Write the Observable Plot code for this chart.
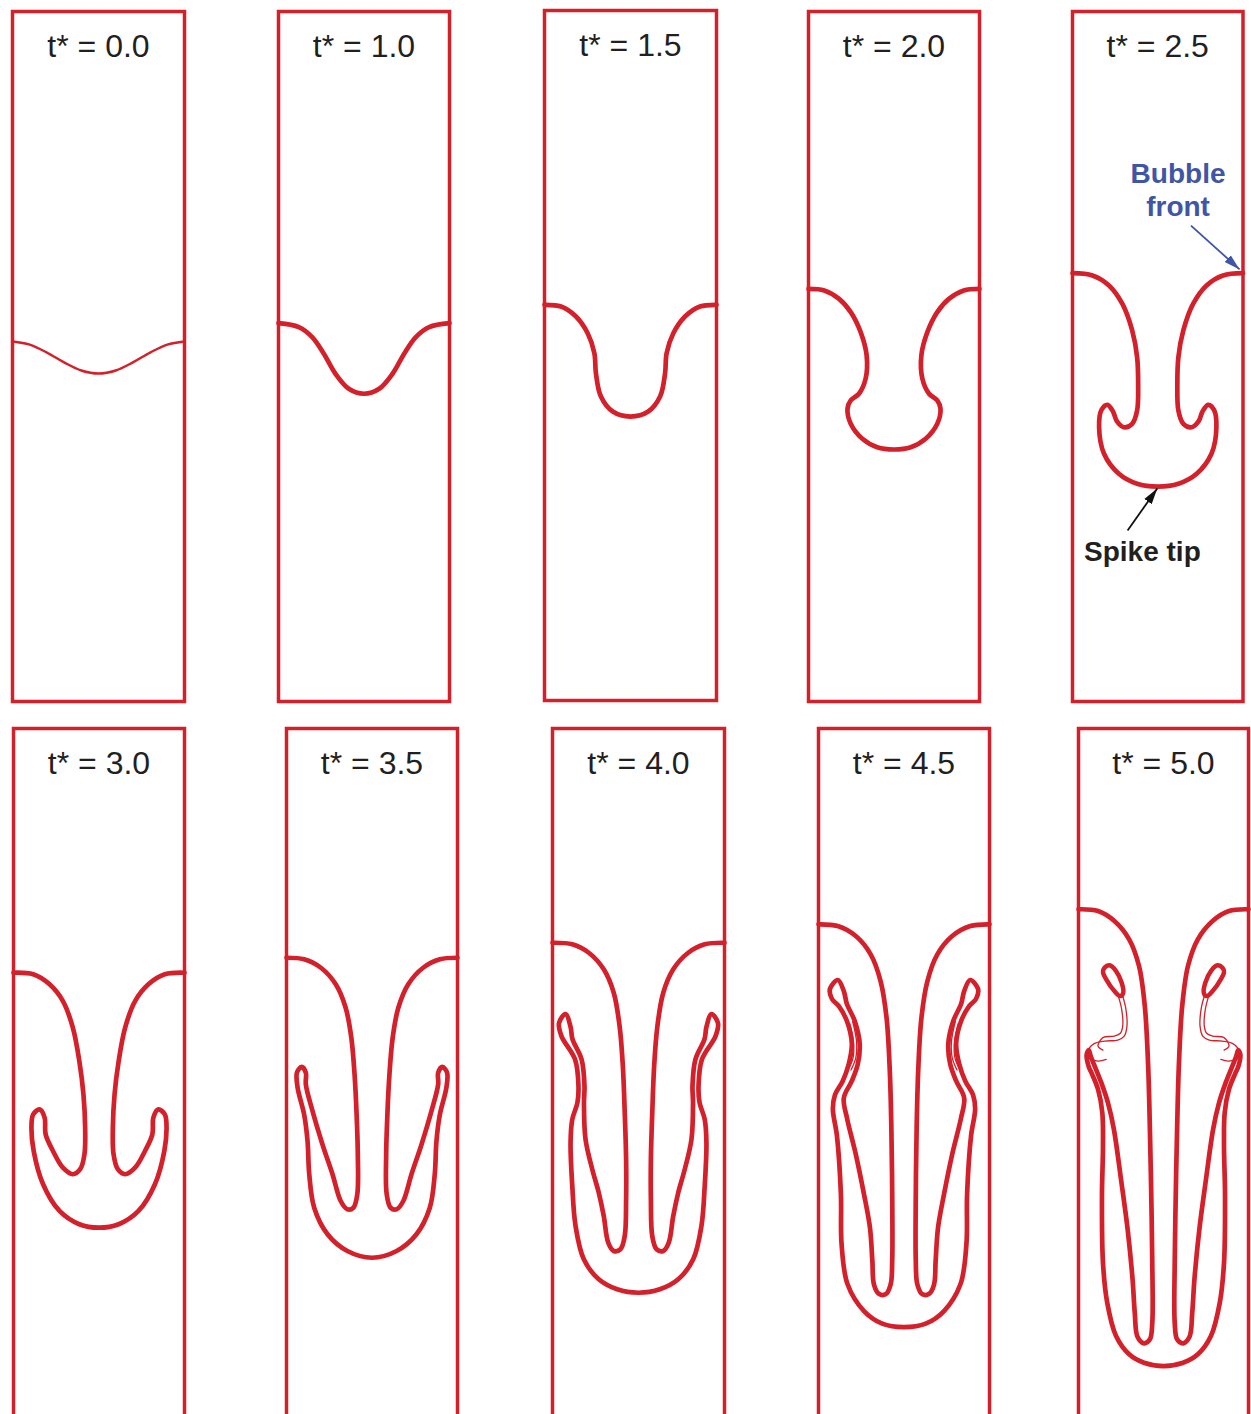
<!DOCTYPE html>
<html>
<head>
<meta charset="utf-8">
<script src="https://cdn.jsdelivr.net/npm/d3@7"></script>
<script src="https://cdn.jsdelivr.net/npm/@observablehq/plot@0.6"></script>
<style>
  html, body { margin: 0; padding: 0; background: #fff; overflow: hidden; }
  #page { position: relative; width: 1251px; height: 1414px; overflow: hidden; background: #fff; }
</style>
</head>
<body>
<div id="page"></div>
<script>
// ---------------- DATA ----------------
// Interface position in each tank: x = horizontal position in tank widths (-0.5 = left wall, 0 = centreline),
// h = height above the tank bottom in tank widths (tank is 4 widths tall).
// Only the left half is listed; the interface is symmetric about the centreline.
const timeLabels = ["0.0", "1.0", "1.5", "2.0", "2.5", "3.0", "3.5", "4.0", "4.5", "5.0"];

const t00 = [[-0.5,2.087],[-0.4,2.069],[-0.3,2.023],[-0.2,1.966],[-0.1,1.919],[0,1.901]];
const t10 = [[-0.5,2.193],[-0.381,2.170],[-0.303,2.112],[-0.235,2.016],[-0.167,1.900],[-0.089,1.813],[0,1.784]];
const t15 = [[-0.5,2.294],[-0.404,2.284],[-0.317,2.226],[-0.249,2.129],[-0.210,2.013],[-0.201,1.897],[-0.172,1.762],[-0.103,1.675],[0,1.646]];
const t20 = [[-0.5,2.392],[-0.408,2.383],[-0.321,2.334],[-0.253,2.257],[-0.195,2.141],[-0.160,2.006],[-0.166,1.871],[-0.205,1.784],[-0.253,1.745],[-0.272,1.697],[-0.253,1.610],[-0.185,1.523],[-0.098,1.474],[0,1.461]];
const t25 = [[-0.5,2.483],[-0.383,2.470],[-0.286,2.412],[-0.208,2.306],[-0.150,2.151],[-0.121,1.996],[-0.115,1.842],[-0.121,1.687],[-0.150,1.610],[-0.199,1.590],[-0.240,1.625],[-0.262,1.680],[-0.295,1.720],[-0.330,1.690],[-0.344,1.590],[-0.315,1.436],[-0.228,1.320],[-0.121,1.262],[0,1.246]];
const t30 = [[-0.5,2.584],[-0.385,2.575],[-0.289,2.517],[-0.211,2.420],[-0.153,2.266],[-0.115,2.072],[-0.091,1.879],[-0.081,1.686],[-0.085,1.532],[-0.110,1.445],[-0.153,1.416],[-0.211,1.454],[-0.269,1.551],[-0.312,1.647],[-0.318,1.744],[-0.347,1.792],[-0.385,1.763],[-0.395,1.686],[-0.382,1.551],[-0.327,1.358],[-0.231,1.203],[-0.115,1.126],[0,1.106]];
const t35 = [[-0.5,2.671],[-0.397,2.662],[-0.299,2.613],[-0.212,2.517],[-0.154,2.381],[-0.121,2.208],[-0.102,1.995],[-0.090,1.763],[-0.083,1.532],[-0.086,1.300],[-0.109,1.222],[-0.144,1.213],[-0.183,1.261],[-0.231,1.416],[-0.290,1.590],[-0.348,1.783],[-0.387,1.937],[-0.387,2.005],[-0.412,2.038],[-0.439,2.005],[-0.435,1.918],[-0.397,1.763],[-0.377,1.609],[-0.367,1.416],[-0.338,1.222],[-0.260,1.068],[-0.144,0.971],[0,0.932]];
const t40 = [[-0.5,2.758],[-0.385,2.749],[-0.289,2.700],[-0.202,2.604],[-0.144,2.468],[-0.110,2.275],[-0.091,2.043],[-0.080,1.773],[-0.072,1.503],[-0.072,1.271],[-0.080,1.058],[-0.105,0.981],[-0.144,0.971],[-0.176,1.019],[-0.202,1.174],[-0.231,1.309],[-0.269,1.445],[-0.308,1.619],[-0.317,1.831],[-0.314,1.928],[-0.331,2.082],[-0.384,2.200],[-0.395,2.270],[-0.424,2.345],[-0.462,2.293],[-0.448,2.217],[-0.369,2.082],[-0.349,1.928],[-0.355,1.831],[-0.385,1.734],[-0.395,1.599],[-0.385,1.348],[-0.366,1.116],[-0.318,0.923],[-0.231,0.807],[-0.124,0.749],[0,0.729]];
const t45 = [[-0.5,2.865],[-0.388,2.855],[-0.282,2.797],[-0.195,2.691],[-0.137,2.536],[-0.102,2.323],[-0.083,2.014],[-0.074,1.686],[-0.069,1.300],[-0.069,0.913],[-0.078,0.778],[-0.108,0.720],[-0.147,0.723],[-0.176,0.778],[-0.185,0.913],[-0.199,1.106],[-0.234,1.300],[-0.282,1.532],[-0.334,1.744],[-0.352,1.858],[-0.305,1.957],[-0.270,2.055],[-0.259,2.171],[-0.288,2.304],[-0.334,2.403],[-0.352,2.478],[-0.387,2.542],[-0.433,2.490],[-0.421,2.432],[-0.381,2.391],[-0.334,2.304],[-0.305,2.171],[-0.323,2.055],[-0.358,1.957],[-0.404,1.875],[-0.416,1.794],[-0.392,1.638],[-0.369,1.300],[-0.365,1.010],[-0.330,0.778],[-0.234,0.623],[-0.127,0.550],[0,0.530]];
const t50 = [[-0.5,2.952],[-0.385,2.942],[-0.289,2.884],[-0.202,2.778],[-0.144,2.623],[-0.110,2.391],[-0.091,2.063],[-0.080,1.677],[-0.072,1.290],[-0.066,0.903],[-0.066,0.555],[-0.080,0.459],[-0.115,0.436],[-0.153,0.474],[-0.169,0.613],[-0.182,0.807],[-0.211,1.097],[-0.250,1.387],[-0.292,1.677],[-0.327,1.831],[-0.366,1.947],[-0.409,2.053],[-0.428,2.100],[-0.440,2.135],[-0.452,2.110],[-0.440,2.040],[-0.424,2.005],[-0.385,1.908],[-0.360,1.773],[-0.356,1.580],[-0.362,1.290],[-0.356,0.903],[-0.331,0.671],[-0.279,0.478],[-0.202,0.372],[-0.115,0.323],[0,0.304]];

// thin filaments (left side) at t* = 4.5 and 5.0
const t45Threads = [
  [[-0.300,2.300],[-0.278,2.190],[-0.282,2.090],[-0.310,2.020]],
  [[-0.318,2.290],[-0.295,2.180],[-0.298,2.090],[-0.322,2.030]]
];
const t50Threads = [
  [[-0.240,2.449],[-0.221,2.372],[-0.215,2.275],[-0.231,2.217],[-0.269,2.194],[-0.347,2.188],[-0.405,2.175],[-0.440,2.140],[-0.434,2.092],[-0.385,2.072],[-0.337,2.082]],
  [[-0.269,2.459],[-0.246,2.372],[-0.240,2.275],[-0.254,2.233],[-0.289,2.217],[-0.356,2.208],[-0.385,2.159],[-0.356,2.136]]
];
// rolled-up blob at the tip of the filament, t* = 5.0 (closed loop, left side)
const t50Blob = [[-0.347,2.613],[-0.318,2.627],[-0.279,2.594],[-0.246,2.526],[-0.237,2.468],[-0.254,2.449],[-0.289,2.478],[-0.337,2.546],[-0.356,2.588]];

const mainHalves = [t00, t10, t15, t20, t25, t30, t35, t40, t45, t50];

// annotations in the t* = 2.5 tank
const noteLabels = ["Bubble", "front", "Spike tip"];
const noteX = [0.119, 0.119, -0.090];
const noteH = [3.058, 2.867, 0.864];
const arrowFrom = [[0.195, 2.759], [-0.177, 0.991]];
const arrowTo   = [[0.480, 2.505], [-0.003, 1.235]];

// ---------------- LAYOUT / STYLE ----------------
const RED = "#d3202a", INK = "#231f20", BLUE = "#3f55a5";
const FONT = "'Liberation Sans', Arial, Helvetica, sans-serif";
const frameLeft  = [11.5, 278, 543.5, 808, 1072, 12.5, 286, 552, 818, 1078];
const frameRight = [183.5, 449, 715.5, 979, 1242.5, 183.5, 457, 724, 989, 1248];
const frameTop   = [11, 11, 9.5, 11, 11, 727.5, 727.5, 727.5, 727.5, 727.5];
const FRAME_H = 690, PAD = 6;

function mirrored(half) {
  return half.concat(half.slice(0, -1).reverse().map(([x, h]) => [-x, h]));
}
function mirrorPiece(piece) { return piece.map(([x, h]) => [-x, h]); }
function rows(points, seg) { return points.map(([x, h]) => ({x, h, seg})); }

function solidHead(color) {
  const ns = "http://www.w3.org/2000/svg";
  const m = document.createElementNS(ns, "marker");
  m.setAttribute("viewBox", "-16 -5 16 10");
  m.setAttribute("markerWidth", "16");
  m.setAttribute("markerHeight", "10");
  m.setAttribute("markerUnits", "userSpaceOnUse");
  m.setAttribute("orient", "auto");
  m.setAttribute("refX", "0");
  m.setAttribute("refY", "0");
  const p = document.createElementNS(ns, "path");
  p.setAttribute("d", "M-16,-4.5L0,0L-16,4.5Z");
  p.setAttribute("fill", color);
  p.setAttribute("stroke", "none");
  m.appendChild(p);
  return m;
}

const page = document.getElementById("page");

timeLabels.forEach((lab, i) => {
  const w = frameRight[i] - frameLeft[i];
  const marks = [
    Plot.frame({stroke: RED, strokeWidth: 3.5}),
    Plot.line(rows(mirrored(mainHalves[i]), "main"), {
      x: "x", y: "h", curve: "catmull-rom", stroke: RED,
      strokeWidth: i === 0 ? 2.5 : 4.7, strokeLinejoin: "round", strokeLinecap: "round"
    }),
    Plot.text([`t* = ${lab}`], {
      frameAnchor: "top", lineAnchor: "middle", dy: 35, fontSize: 32,
      fontFamily: FONT, fill: INK
    })
  ];
  if (i === 8 || i === 9) {
    const threads = i === 8 ? t45Threads : t50Threads;
    const tr = [];
    threads.forEach((t, k) => {
      tr.push(...rows(t, "L" + k));
      tr.push(...rows(mirrorPiece(t), "R" + k));
    });
    marks.push(Plot.line(tr, {x: "x", y: "h", z: "seg", curve: "catmull-rom", stroke: RED, strokeWidth: 1.3}));
  }
  if (i === 9) {
    marks.push(Plot.line(rows(t50Blob, "L"), {x: "x", y: "h", curve: "catmull-rom-closed", stroke: RED, strokeWidth: 4.5}));
    marks.push(Plot.line(rows(mirrorPiece(t50Blob), "R"), {x: "x", y: "h", curve: "catmull-rom-closed", stroke: RED, strokeWidth: 4.5}));
  }
  if (i === 4) {
    const notes = noteLabels.map((t, k) => ({t, x: noteX[k], h: noteH[k], c: k < 2 ? BLUE : INK}));
    marks.push(Plot.text(notes, {x: "x", y: "h", text: "t", fill: "c", fontSize: 28, fontWeight: "bold", fontFamily: FONT, lineAnchor: "middle"}));
    const arr = arrowFrom.map((a, k) => ({x1: a[0], h1: a[1], x2: arrowTo[k][0], h2: arrowTo[k][1], c: k === 0 ? BLUE : "#111"}));
    arr.forEach(a => {
      let m;
      try {
        m = Plot.link([a], {x1: "x1", y1: "h1", x2: "x2", y2: "h2", stroke: a.c, strokeWidth: 1.8, markerEnd: solidHead});
      } catch (e) {
        m = Plot.arrow([a], {x1: "x1", y1: "h1", x2: "x2", y2: "h2", stroke: a.c, strokeWidth: 1.8, headLength: 12});
      }
      marks.push(m);
    });
  }
  const svg = Plot.plot({
    width: w + 2 * PAD, height: FRAME_H + 2 * PAD, margin: PAD,
    x: {domain: [-0.5, 0.5], axis: null},
    y: {domain: [0, 4], axis: null},
    marks
  });
  svg.style.position = "absolute";
  svg.style.left = (frameLeft[i] - PAD) + "px";
  svg.style.top = (frameTop[i] - PAD) + "px";
  svg.style.overflow = "visible";
  svg.style.background = "transparent";
  svg.style.maxWidth = "none";
  page.appendChild(svg);
});
</script>
</body>
</html>
